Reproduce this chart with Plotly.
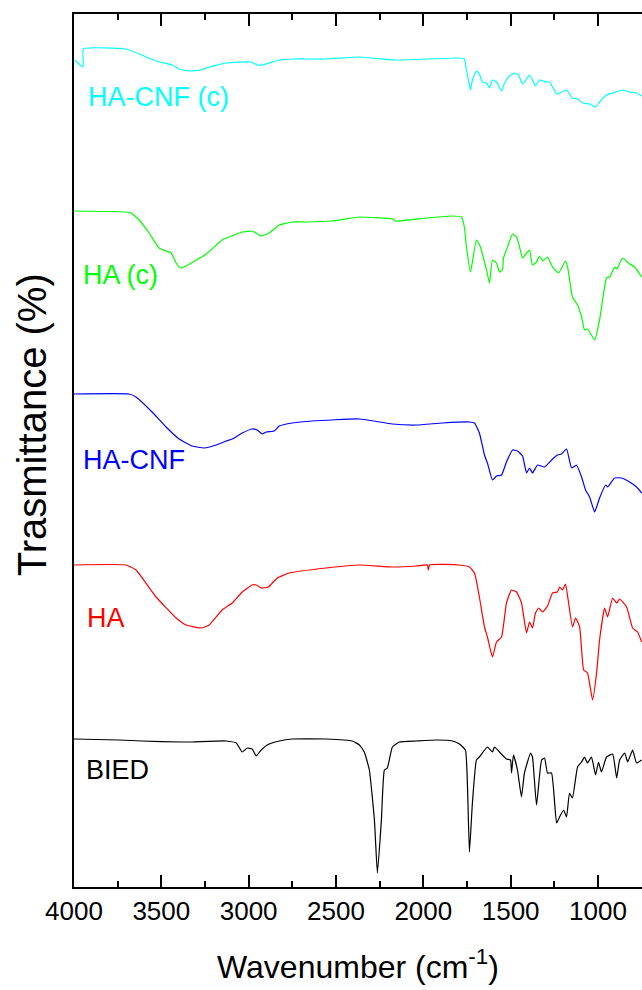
import plotly.graph_objects as go

# ---------------- data (wavenumber cm^-1, transmittance a.u.) ----------------
hacnf_c_wn = [3996, 3948, 3946, 3702, 3530, 3438, 3398, 3341, 3272, 3243, 3129, 2985, 2951, 2922, 2825,
              2750, 2556, 2366, 2166, 1982, 1793, 1765, 1753, 1730, 1719, 1696, 1679, 1662, 1638, 1621,
              1604, 1581, 1552, 1535, 1507, 1478, 1455, 1432, 1409, 1392, 1375, 1358, 1335, 1295, 1277,
              1237, 1220, 1180, 1146, 1117, 1088, 1048, 1014, 991, 951, 916, 859, 819, 779, 750]
hacnf_c_t = [827, 820, 838, 838, 826, 822, 818, 816, 817, 819, 824, 825, 822, 822, 827,
             828, 828, 830, 827, 828, 829, 828, 817, 797, 807, 816, 813, 805, 804, 799,
             807, 805, 796, 804, 811, 814, 812, 803, 808, 812, 807, 801, 807, 805, 805,
             793, 794, 797, 789, 788, 784, 783, 780, 785, 792, 794, 797, 795, 794, 791]

ha_c_wn = [4000, 3702, 3673, 3627, 3570, 3513, 3473, 3444, 3415, 3392, 3358, 3243, 3152, 3112, 3037,
           2980, 2957, 2928, 2882, 2825, 2750, 2670, 2521, 2366, 2177, 2160, 1982, 1833, 1782, 1765,
           1753, 1730, 1719, 1696, 1673, 1656, 1638, 1621, 1604, 1581, 1564, 1547, 1541, 1518, 1489,
           1466, 1449, 1432, 1409, 1392, 1375, 1352, 1335, 1317, 1289, 1260, 1226, 1186, 1174, 1146,
           1117, 1094, 1077, 1060, 1019, 991, 951, 933, 905, 893, 859, 819, 790, 750]
ha_c_t = [676, 675, 674, 667, 654, 639, 636, 634, 624, 619, 621, 633, 647, 650, 655,
          656, 654, 651, 654, 662, 665, 665, 666, 670, 668, 666, 669, 671, 670, 660,
          640, 615, 625, 647, 640, 629, 617, 604, 627, 624, 615, 617, 629, 640, 653,
          650, 640, 629, 634, 637, 622, 625, 631, 626, 630, 620, 614, 626, 620, 590,
          582, 570, 557, 558, 547, 567, 609, 610, 620, 618, 629, 623, 620, 610]

hacnf_wn = [4000, 3685, 3645, 3553, 3473, 3398, 3324, 3255, 3186, 3129, 3094, 3037, 2980, 2951, 2922,
            2899, 2854, 2825, 2750, 2636, 2366, 2177, 2040, 1891, 1736, 1707, 1679, 1650, 1633, 1604,
            1581, 1552, 1524, 1489, 1461, 1432, 1409, 1392, 1375, 1346, 1306, 1260, 1232, 1209, 1180,
            1151, 1123, 1094, 1071, 1048, 1019, 991, 956, 945, 905, 865, 819, 779, 750]
hacnf_t = [493, 493, 490, 475, 460, 448, 441, 439, 442, 446, 448, 454, 458, 457, 453,
           455, 456, 461, 464, 466, 468, 463, 462, 464, 465, 464, 454, 432, 424, 407,
           411, 412, 425, 437, 436, 431, 414, 419, 414, 422, 420, 428, 432, 433, 438,
           419, 422, 410, 397, 390, 375, 389, 402, 400, 409, 409, 405, 400, 394]

ha_wn = [4000, 3702, 3645, 3530, 3415, 3358, 3272, 3226, 3152, 3094, 3037, 2980, 2957, 2928, 2888,
         2836, 2768, 2556, 2366, 2177, 2040, 1977, 1971, 1965, 1793, 1736, 1707, 1679, 1650, 1633,
         1604, 1581, 1552, 1524, 1495, 1466, 1438, 1409, 1392, 1375, 1358, 1340, 1317, 1289, 1260,
         1232, 1220, 1203, 1186, 1169, 1146, 1128, 1105, 1082, 1060, 1031, 1008, 991, 962, 945,
         916, 893, 876, 836, 802, 773, 750]
ha_t = [322, 322, 317, 290, 269, 262, 259, 262, 277, 284, 295, 302, 302, 299, 300,
        309, 314, 319, 322, 320, 321, 322, 317, 322, 322, 320, 314, 290, 260, 250,
        230, 245, 250, 284, 297, 295, 284, 254, 265, 259, 274, 279, 275, 281, 294,
        295, 300, 297, 303, 285, 260, 269, 260, 217, 214, 187, 214, 247, 279, 270,
        289, 284, 288, 280, 259, 255, 245]

bied_wn = [4000, 3742, 3610, 3387, 3324, 3129, 3071, 3037, 3008, 2980, 2957, 2928, 2894, 2825, 2750,
           2556, 2407, 2366, 2338, 2309, 2280, 2263, 2240, 2223, 2206, 2177, 2137, 2040, 1925, 1833,
           1793, 1759, 1747, 1736, 1719, 1696, 1679, 1633, 1604, 1593, 1564, 1524, 1501, 1495, 1484,
           1461, 1438, 1421, 1386, 1375, 1352, 1323, 1306, 1289, 1266, 1237, 1220, 1197, 1180, 1163,
           1146, 1117, 1094, 1077, 1060, 1037, 1014, 997, 980, 951, 916, 893, 876, 847, 830,
           802, 779, 750]
bied_t = [148, 147, 146, 145, 145, 146, 144, 135, 139, 138, 131, 137, 142, 146, 148,
          148, 146, 142, 135, 117, 67, 14, 67, 117, 119, 140, 145, 146, 147, 146,
          143, 137, 100, 35, 84, 127, 130, 140, 135, 140, 135, 128, 127, 114, 132,
          117, 90, 114, 134, 130, 82, 127, 129, 114, 114, 64, 70, 77, 70, 94,
          89, 120, 125, 130, 124, 130, 112, 125, 115, 130, 133, 109, 127, 134, 125,
          137, 124, 127]

series_names = ["HA-CNF (c)", "HA (c)", "HA-CNF", "HA", "BIED"]
series_colors = ["#00FFFF", "#00FF00", "#0000FF", "#FF0000", "#000000"]
series_x = [hacnf_c_wn, ha_c_wn, hacnf_wn, ha_wn, bied_wn]
series_y = [hacnf_c_t, ha_c_t, hacnf_t, ha_t, bied_t]

# label anchor positions (wavenumber, transmittance)
label_x = [3931, 3960, 3960, 3937, 3943]
label_y = [790, 612, 427, 269, 117]

x_tickvals = [4000, 3500, 3000, 2500, 2000, 1500, 1000]
x_range = [4000, 748]

FONT = "Liberation Sans, Arial, sans-serif"

fig = go.Figure()
for name, col, xs, ys in zip(series_names, series_colors, series_x, series_y):
    fig.add_trace(go.Scatter(x=xs, y=ys, mode="lines", name=name,
                             line=dict(color=col, width=1.2, shape="spline", smoothing=0.4),
                             showlegend=False))

for name, col, lx, ly in zip(series_names, series_colors, label_x, label_y):
    fig.add_annotation(x=lx, y=ly, xref="x", yref="y", text=name, showarrow=False,
                       xanchor="left", yanchor="middle",
                       font=dict(family=FONT, size=27, color=col))

fig.add_annotation(x=-0.074, y=0.53, xref="paper", yref="paper", text="Trasmittance (%)",
                   showarrow=False, textangle=-90, xanchor="center", yanchor="middle",
                   font=dict(family=FONT, size=40, color="black"))

fig.update_layout(
    width=642, height=990,
    margin=dict(l=74, r=0, t=14, b=103),
    paper_bgcolor="white", plot_bgcolor="white",
    font=dict(family=FONT, color="black"),
    xaxis=dict(
        range=x_range, tickvals=x_tickvals, ticktext=[str(v) for v in x_tickvals],
        ticks="inside", ticklen=12, tickwidth=2, tickcolor="black",
        minor=dict(dtick=250, ticks="inside", ticklen=6, tickwidth=2, tickcolor="black", showgrid=False),
        showline=True, linecolor="black", linewidth=2, mirror="allticks",
        showgrid=False, zeroline=False, layer="above traces",
        tickfont=dict(family=FONT, size=26, color="black"),
        title=dict(text="Wavenumber (cm<sup>-1</sup>)", font=dict(family=FONT, size=32, color="black"),
                   standoff=30),
    ),
    yaxis=dict(
        range=[0, 873], showticklabels=False, ticks="",
        showline=True, linecolor="black", linewidth=2, mirror=False,
        showgrid=False, zeroline=False, layer="above traces",
    ),
)

fig.write_html("out.html")
